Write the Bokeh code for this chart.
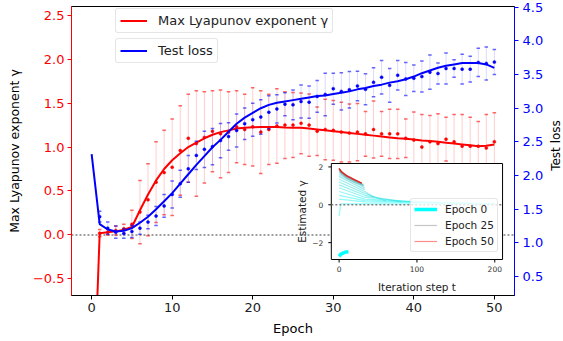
import math
from bokeh.plotting import figure
from bokeh.layouts import row
from bokeh.models import (Range1d, LinearAxis, FixedTicker, Legend, LegendItem,
                          Span, CustomJSTickFormatter)
from bokeh.core.properties import value
from bokeh.embed import file_html
from bokeh.resources import INLINE

# ---------------- data ----------------
epochs = list(range(51))
gamma_fit = [-2.5, 0.02, 0.03, 0.04, 0.06, 0.09, 0.28, 0.46, 0.62, 0.75,
             0.85, 0.93, 1.00, 1.05, 1.10, 1.14, 1.17, 1.19, 1.21, 1.22,
             1.225, 1.228, 1.228, 1.227, 1.222, 1.22, 1.22, 1.21, 1.20, 1.19,
             1.18, 1.17, 1.16, 1.15, 1.14, 1.13, 1.12, 1.11, 1.10, 1.095,
             1.085, 1.075, 1.07, 1.06, 1.05, 1.04, 1.03, 1.02, 1.01, 1.015, 1.03]
loss_fit = [2.32, 1.28, 1.20, 1.17, 1.18, 1.22, 1.30, 1.39, 1.50, 1.62,
            1.74, 1.88, 2.02, 2.16, 2.29, 2.42, 2.53, 2.65, 2.77, 2.86,
            2.93, 3.00, 3.05, 3.08, 3.10, 3.12, 3.14, 3.16, 3.18, 3.19,
            3.21, 3.23, 3.25, 3.28, 3.30, 3.33, 3.35, 3.38, 3.40, 3.43,
            3.47, 3.52, 3.56, 3.60, 3.63, 3.65, 3.67, 3.67, 3.67, 3.65, 3.60]

err_epochs = list(range(1, 51))
gamma_mean = [0.02, 0.03, 0.05, 0.07, 0.12, 0.26, 0.40, 0.60, 0.71, 0.77,
              0.96, 1.10, 1.04, 1.11, 1.18, 1.15, 1.17, 1.23, 1.20, 1.23,
              1.17, 1.20, 1.24, 1.25, 1.25, 1.27, 1.25, 1.18, 1.20, 1.19,
              1.17, 1.16, 1.17, 1.15, 1.20, 1.15, 1.15, 1.15, 1.10, 1.08,
              1.00, 1.06, 1.04, 1.09, 1.06, 1.01, 1.01, 1.01, 0.99, 1.06]
gamma_std = [0.04, 0.03, 0.05, 0.05, 0.16, 0.36, 0.41, 0.46, 0.48, 0.55,
             0.51, 0.50, 0.60, 0.52, 0.46, 0.50, 0.46, 0.41, 0.40, 0.445,
             0.47, 0.40, 0.425, 0.38, 0.37, 0.345, 0.355, 0.275, 0.345, 0.34,
             0.34, 0.33, 0.325, 0.255, 0.325, 0.255, 0.28, 0.28, 0.22, 0.32,
             0.37, 0.30, 0.34, 0.25, 0.31, 0.36, 0.33, 0.28, 0.38, 0.33]
loss_mean = [1.39, 1.22, 1.16, 1.14, 1.17, 1.22, 1.31, 1.40, 1.55, 1.72,
             1.88, 2.10, 2.30, 2.39, 2.43, 2.52, 2.58, 2.67, 2.77, 2.83,
             2.87, 2.94, 2.99, 3.06, 3.05, 3.10, 3.09, 3.175, 3.205, 3.29,
             3.25, 3.275, 3.33, 3.28, 3.385, 3.46, 3.34, 3.49, 3.435, 3.445,
             3.47, 3.535, 3.515, 3.59, 3.59, 3.58, 3.58, 3.68, 3.665, 3.685]
loss_std = [0.08, 0.09, 0.09, 0.07, 0.09, 0.09, 0.10, 0.14, 0.17, 0.20,
            0.20, 0.20, 0.21, 0.27, 0.27, 0.255, 0.205, 0.245, 0.235, 0.245,
            0.255, 0.245, 0.21, 0.17, 0.22, 0.245, 0.24, 0.235, 0.315, 0.23,
            0.275, 0.27, 0.22, 0.23, 0.215, 0.25, 0.25, 0.22, 0.245, 0.195,
            0.23, 0.255, 0.155, 0.23, 0.13, 0.22, 0.19, 0.21, 0.245, 0.185]

# inset: estimated gamma vs iteration step, one curve per epoch (key points)
inset_epochs = [0, 1, 2, 3, 4, 5, 6, 7, 8, 9, 10, 11, 12,
                15, 20, 25, 30, 35, 40, 45, 50]
inset_steps = [
    [0, 2, 5, 8, 12],
    [0, 2, 200],
    [0, 33, 200],
    [0, 33, 170],
    [0, 33, 130],
    [0, 33, 100],
    [0, 33, 80],
    [0, 33, 60],
    [0, 33, 45],
    [0, 33],
    [0, 33],
    [0, 32],
    [0, 31],
    [0, 3, 10, 20, 32],
    [0, 3, 10, 20, 31],
    [0, 3, 10, 20, 29],
    [0, 3, 10, 20, 29],
    [0, 3, 10, 20, 29],
    [0, 3, 10, 20, 29],
    [0, 3, 10, 20, 29],
    [0, 3, 10, 20, 29],
]
inset_gamma = [
    [-2.72, -2.62, -2.55, -2.50, -2.48],
    [-0.60, 0.05, 0.04],
    [0.30, 0.15, 0.06],
    [0.50, 0.22, 0.08],
    [0.70, 0.30, 0.10],
    [0.90, 0.40, 0.12],
    [1.05, 0.50, 0.15],
    [1.20, 0.60, 0.20],
    [1.35, 0.70, 0.40],
    [1.50, 0.80],
    [1.60, 0.90],
    [1.70, 0.98],
    [1.78, 1.04],
    [1.84, 1.62, 1.38, 1.18, 1.02],
    [1.87, 1.67, 1.44, 1.24, 1.08],
    [1.89, 1.70, 1.48, 1.28, 1.12],
    [1.90, 1.72, 1.50, 1.30, 1.13],
    [1.91, 1.73, 1.51, 1.31, 1.14],
    [1.92, 1.74, 1.52, 1.32, 1.14],
    [1.92, 1.75, 1.53, 1.32, 1.15],
    [1.93, 1.76, 1.54, 1.33, 1.15],
]
inset_legend_epochs = [0, 25, 50]

x_ticks = [0, 10, 20, 30, 40, 50]
left_ticks = [-0.5, 0.0, 0.5, 1.0, 1.5, 2.0, 2.5]
right_ticks = [0.5, 1.0, 1.5, 2.0, 2.5, 3.0, 3.5, 4.0, 4.5]
inset_x_ticks = [0, 100, 200]
inset_y_ticks = [-2, 0, 2]
inset_x_labels = ["0", "100", "200"]
inset_y_labels = ["\u22122", "0", "2"]

# ---------------- layout / style ----------------
FONT = "DejaVu Sans"
W, H = 563, 341
WS = 17                                   # strip on the right for the "Test loss" title
WP = W - WS                               # width of the main figure
FL, FR, FT, FB = 71, 516, 6, 295          # main frame pixel edges
IL, IR, IT, IB = 332, 504, 163, 259       # inset frame pixel edges
X_LIM = (-2.5, 52.5)
Y_LIM = (-0.69, 2.6)
inset_t_lim = (-10, 210)
inset_g_lim = (-2.89, 2.18)

sx = (inset_t_lim[1] - inset_t_lim[0]) / (IR - IL)
sy = (inset_g_lim[1] - inset_g_lim[0]) / (IB - IT)
ix0 = inset_t_lim[0] - (IL - FL) * sx
ix1 = inset_t_lim[1] + (FR - IR) * sx
iy0 = inset_g_lim[0] - (FB - IB) * sy
iy1 = inset_g_lim[1] + (IT - FT) * sy

p = figure(width=WP, height=H, output_backend="svg", toolbar_location=None,
           x_range=Range1d(*X_LIM), y_range=Range1d(*Y_LIM),
           min_border_left=FL, min_border_right=WP - FR,
           min_border_top=FT, min_border_bottom=H - FB)
p.extra_y_ranges = {"loss": Range1d(0.22, 4.51), "ig": Range1d(iy0, iy1)}
p.extra_x_ranges = {"it": Range1d(ix0, ix1)}
p.xgrid.visible = False
p.ygrid.visible = False
p.outline_line_color = "black"
p.outline_line_width = 1
p.background_fill_color = "white"
p.border_fill_color = "white"

def style_axis(ax, color, label_color="black"):
    ax.axis_line_color = color
    ax.major_tick_line_color = color
    ax.major_tick_out = 4
    ax.major_tick_in = 0
    ax.minor_tick_out = 0
    ax.minor_tick_in = 0
    ax.major_label_text_color = color if color != "black" else "#222222"
    ax.major_label_text_font = FONT
    ax.major_label_text_font_size = "13px"
    ax.axis_label_text_font = FONT
    ax.axis_label_text_font_size = "13px"
    ax.axis_label_text_font_style = "normal"
    ax.axis_label_text_color = label_color

xa = p.xaxis[0]
style_axis(xa, "black")
xa.ticker = FixedTicker(ticks=x_ticks)
xa.axis_label = "Epoch"
xa.major_label_standoff = 3
xa.axis_label_standoff = 6

ya = p.yaxis[0]
style_axis(ya, "red")
ya.ticker = FixedTicker(ticks=left_ticks)
ya.formatter = CustomJSTickFormatter(
    code="return (tick < 0 ? '\u2212' : '') + Math.abs(tick).toFixed(1);")
ya.axis_label = "Max Lyapunov exponent \u03b3"
ya.axis_label_text_font_size = "12.5px"
ya.major_label_standoff = 3
ya.axis_label_standoff = 8

yr = LinearAxis(y_range_name="loss")
style_axis(yr, "blue")
yr.ticker = FixedTicker(ticks=right_ticks)
yr.formatter = CustomJSTickFormatter(code="return tick.toFixed(1);")
yr.major_label_standoff = 4
p.add_layout(yr, "right")

# zero reference line
p.add_layout(Span(location=0, dimension="width", line_color="#808080",
                  line_width=1.5, line_dash="2 2", level="underlay"))

# ---------------- main series ----------------
g_lo = [m - s for m, s in zip(gamma_mean, gamma_std)]
g_hi = [m + s for m, s in zip(gamma_mean, gamma_std)]
l_lo = [m - s for m, s in zip(loss_mean, loss_std)]
l_hi = [m + s for m, s in zip(loss_mean, loss_std)]

p.segment(x0=err_epochs, x1=err_epochs, y0=g_lo, y1=g_hi,
          line_color="red", line_alpha=0.2, line_width=1)
p.scatter(x=err_epochs + err_epochs, y=g_lo + g_hi, marker="dash", size=3.5,
          line_color="red", line_alpha=0.6, line_width=1.5)
p.scatter(x=err_epochs, y=gamma_mean, marker="circle", size=3.0,
          fill_color="red", line_color="red", line_width=0.5)
r_gamma = p.line(epochs, gamma_fit, line_color="red", line_width=2)

p.segment(x0=err_epochs, x1=err_epochs, y0=l_lo, y1=l_hi, y_range_name="loss",
          line_color="blue", line_alpha=0.15, line_width=1)
p.scatter(x=err_epochs + err_epochs, y=l_lo + l_hi, marker="dash", size=3.5,
          y_range_name="loss", line_color="blue", line_alpha=0.6, line_width=1.5)
p.scatter(x=err_epochs, y=loss_mean, marker="circle", size=3.0, y_range_name="loss",
          fill_color="blue", line_color="blue", line_width=0.5)
r_loss = p.line(epochs, loss_fit, y_range_name="loss", line_color="blue", line_width=2)

# ---------------- inset ----------------
IR_KW = dict(x_range_name="it", y_range_name="ig")
p.quad(left=[inset_t_lim[0]], right=[inset_t_lim[1]],
       bottom=[inset_g_lim[0]], top=[inset_g_lim[1]],
       fill_color="white", line_color="black", line_width=1, **IR_KW)

def ramp(e):
    if e <= 25:
        f = e / 25.0
        c0, c1 = (0, 255, 255), (128, 128, 128)
    else:
        f = (e - 25) / 25.0
        c0, c1 = (128, 128, 128), (255, 0, 0)
    return "#%02x%02x%02x" % tuple(int(round(a + (b - a) * f)) for a, b in zip(c0, c1))

inset_renderers = {}
for e, ts, vs in zip(inset_epochs, inset_steps, inset_gamma):
    if e == 0:
        r = p.line(ts, vs, line_color=ramp(e), line_width=3.5, line_alpha=1.0, **IR_KW)
    else:
        r = p.line(ts, vs, line_color=ramp(e), line_width=1.2, line_alpha=0.45, **IR_KW)
    inset_renderers[e] = r

p.line(list(inset_t_lim), [0, 0], line_color="#808080", line_width=1.5,
       line_dash="2 2", **IR_KW)

# inset ticks and tick labels
p.segment(x0=[inset_t_lim[0]] * 3, x1=[inset_t_lim[0] - 3 * sx] * 3,
          y0=inset_y_ticks, y1=inset_y_ticks, line_color="black", line_width=1, **IR_KW)
p.segment(x0=inset_x_ticks, x1=inset_x_ticks, y0=[inset_g_lim[0]] * 3,
          y1=[inset_g_lim[0] - 3 * sy] * 3, line_color="black", line_width=1, **IR_KW)
p.text(x=[inset_t_lim[0] - 8 * sx] * 3, y=inset_y_ticks, text=inset_y_labels,
       text_font=value(FONT), text_font_size="7.5px", text_color="#333333",
       text_align="right", text_baseline="middle", **IR_KW)
p.text(x=inset_x_ticks, y=[inset_g_lim[0] - 6 * sy] * 3, text=inset_x_labels,
       text_font=value(FONT), text_font_size="7.5px", text_color="#333333",
       text_align="center", text_baseline="top", **IR_KW)
p.text(x=[inset_t_lim[0] - (IL - 303) * sx], y=[(inset_g_lim[0] + inset_g_lim[1]) / 2],
       text=["Estimated \u03b3"], angle=math.pi / 2,
       text_font=value(FONT), text_font_size="10.5px", text_color="#222222",
       text_align="center", text_baseline="middle", **IR_KW)
p.text(x=[(inset_t_lim[0] + inset_t_lim[1]) / 2], y=[inset_g_lim[0] - (286 - IB) * sy],
       text=["Iteration step t"],
       text_font=value(FONT), text_font_size="10.5px", text_color="#222222",
       text_align="center", text_baseline="middle", **IR_KW)

# ---------------- legends ----------------
def style_legend(lg, fs, gw, gh, pad, standoff, spacing):
    lg.label_text_font = FONT
    lg.label_text_font_size = fs
    lg.label_text_color = "#222222"
    lg.glyph_width = gw
    lg.glyph_height = gh
    lg.label_height = gh
    lg.padding = pad
    lg.label_standoff = standoff
    lg.spacing = spacing
    lg.margin = 0
    lg.border_line_color = "#cccccc"
    lg.border_line_width = 1
    lg.background_fill_color = "white"
    lg.background_fill_alpha = 0.8
    try:
        lg.border_radius = 3
    except Exception:
        pass

leg1 = Legend(items=[LegendItem(label="Max Lyapunov exponent \u03b3", renderers=[r_gamma])],
              location=(44, 262))
style_legend(leg1, "13px", 27, 13, 4, 11, 0)
p.add_layout(leg1)

leg2 = Legend(items=[LegendItem(label="Test loss", renderers=[r_loss])],
              location=(44, 232))
style_legend(leg2, "13px", 27, 13, 4, 11, 0)
p.add_layout(leg2)

leg3 = Legend(items=[LegendItem(label="Epoch %d" % e, renderers=[inset_renderers[e]])
                     for e in inset_legend_epochs],
              location=(IR - FL - 94, FB - 252))
style_legend(leg3, "10.5px", 23, 14, 3, 8, 2)
p.add_layout(leg3)

# ---------------- right-hand title strip ("Test loss", reading upwards) ----------------
# the strip's frame is aligned with the main frame, so its y range is in page pixels
s = figure(width=WS, height=H, output_backend="svg", toolbar_location=None,
           x_range=Range1d(0, WS), y_range=Range1d(FB, FT),
           x_axis_location=None, y_axis_location=None,
           min_border_left=0, min_border_right=0, min_border_top=FT, min_border_bottom=H - FB)
s.xgrid.visible = False
s.ygrid.visible = False
s.outline_line_color = None
s.background_fill_color = "white"
s.border_fill_color = "white"
s.text(x=[WS - 8], y=[145], text=["Test loss"], angle=math.pi / 2,
       text_font=value(FONT), text_font_size="12px", text_color="black",
       text_align="center", text_baseline="middle")

layout = row(p, s, spacing=0)
open("out.html", "w").write(file_html(layout, INLINE))
